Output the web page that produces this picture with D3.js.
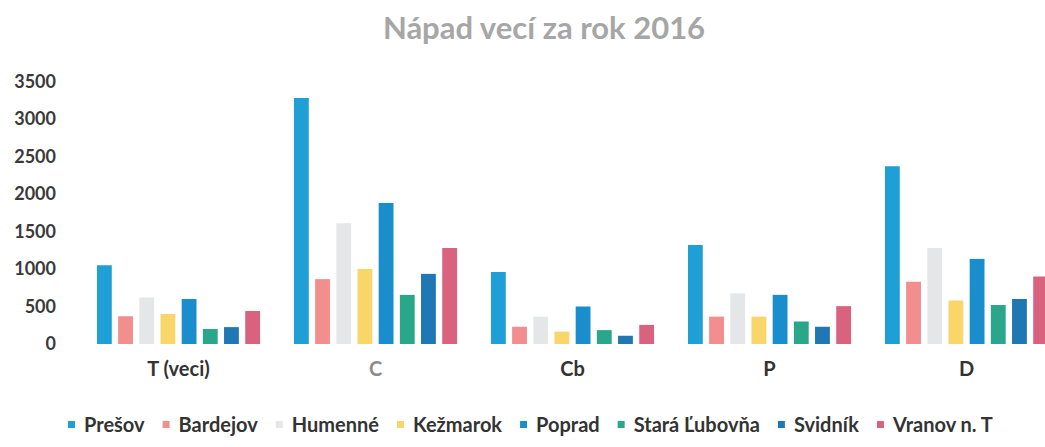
<!DOCTYPE html>
<html>
<head>
<meta charset="utf-8">
<script src="https://cdn.jsdelivr.net/npm/d3@7"></script>
<style>
  html, body { margin: 0; padding: 0; background: #fff; overflow: hidden; }
  svg { display: block; font-family: Lato, "Open Sans", sans-serif; }
</style>
</head>
<body>
<svg id="chart" width="1045" height="447"></svg>
<script>
const categories = ["T (veci)", "C", "Cb", "P", "D"];
const districts = ["Prešov", "Bardejov", "Humenné", "Kežmarok", "Poprad", "Stará Ľubovňa", "Svidník", "Vranov n. T"];
const colors = ["#1e9fd6", "#f28e8e", "#e4e6e8", "#f8d66a", "#1a8dcc", "#2aa68a", "#1f78b4", "#d9637f"];
const yTicks = [0, 500, 1000, 1500, 2000, 2500, 3000, 3500];

// one array per district, in category order
const presov    = [1050, 3280, 960, 1320, 2370];
const bardejov  = [370, 865, 230, 365, 830];
const humenne   = [620, 1610, 365, 675, 1280];
const kezmarok  = [400, 1000, 165, 365, 580];
const poprad    = [600, 1880, 500, 655, 1135];
const staraLub  = [200, 655, 185, 300, 520];
const svidnik   = [225, 935, 110, 230, 600];
const vranov    = [440, 1280, 255, 505, 900];
const values = [presov, bardejov, humenne, kezmarok, poprad, staraLub, svidnik, vranov];

const svg = d3.select("#chart");

const x0 = d3.scaleBand().domain(categories).range([80, 1065]);
const x1 = d3.scaleBand().domain(districts)
  .range([0, x0.bandwidth()])
  .paddingInner(0.3)
  .paddingOuter(0.8);
const y = d3.scaleLinear().domain([0, 3500]).range([344, 81.5]);

// title
svg.append("text")
  .attr("x", 544)
  .attr("y", 39)
  .attr("text-anchor", "middle")
  .style("font-size", "31px")
  .style("font-weight", "bold")
  .style("fill", "#a6a6a6")
  .text("Nápad vecí za rok 2016");

// y axis labels only
const yAxis = d3.axisLeft(y).tickValues(yTicks).tickFormat(d3.format("d")).tickSize(0).tickPadding(0);
const gy = svg.append("g")
  .attr("transform", "translate(56,0)")
  .call(yAxis);
gy.select(".domain").remove();
gy.selectAll("text")
  .style("font-family", "Lato, sans-serif")
  .style("font-size", "18px")
  .style("font-weight", "bold")
  .style("fill", "#3a3a3a");

// bars
const groups = svg.append("g")
  .selectAll("g")
  .data(categories)
  .join("g")
  .attr("transform", (d) => `translate(${x0(d)},0)`);

groups.selectAll("rect")
  .data((c, ci) => districts.map((name, si) => ({ name, si, value: values[si][ci] })))
  .join("rect")
  .attr("x", (d) => x1(d.name))
  .attr("y", (d) => y(d.value))
  .attr("width", x1.bandwidth())
  .attr("height", (d) => y(0) - y(d.value))
  .attr("fill", (d) => colors[d.si]);

// category labels
const xAxis = d3.axisBottom(x0).tickSize(0).tickPadding(0);
const gx = svg.append("g")
  .attr("transform", "translate(0,362)")
  .call(xAxis);
gx.select(".domain").remove();
gx.selectAll("text")
  .style("font-family", "Lato, sans-serif")
  .style("font-size", "20px")
  .style("font-weight", "bold")
  .style("fill", (d) => (d === "C" ? "#8c8c8c" : "#333"));

// legend
const legend = svg.append("g");
let lx = 68;
districts.forEach((name, i) => {
  legend.append("rect")
    .attr("x", lx)
    .attr("y", 421)
    .attr("width", 7)
    .attr("height", 7)
    .attr("fill", colors[i]);
  const t = legend.append("text")
    .attr("x", lx + 16)
    .attr("y", 432)
    .style("font-size", "20px")
    .style("font-weight", "bold")
    .style("fill", "#333")
    .text(name);
  lx += 16 + t.node().getComputedTextLength() + 18;
});
</script>
</body>
</html>
